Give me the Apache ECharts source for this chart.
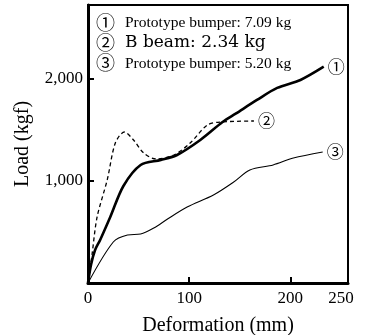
<!DOCTYPE html>
<html>
<head>
<meta charset="utf-8">
<script src="https://cdn.jsdelivr.net/npm/echarts@6/dist/echarts.min.js"></script>
<style>
  html, body { margin: 0; padding: 0; background: #fff; }
  #chart { width: 370px; height: 335px; }
</style>
</head>
<body>
<div id="chart"></div>
<script>
  // deformation (mm) / load (kgf)
  var def1 = [0, 3, 7, 12, 22, 35, 52, 72, 88, 111, 133, 146, 167, 187, 210, 233];
  var load1 = [0, 180, 323, 422, 647, 951, 1157, 1206, 1255, 1402, 1578, 1660, 1794, 1912, 1990, 2120];

  var def2 = [0, 4, 9, 19, 27, 36, 45, 55, 67, 85, 101, 118, 131, 164];
  var load2 = [0, 280, 647, 1010, 1372, 1480, 1402, 1275, 1216, 1255, 1372, 1549, 1578, 1588];

  var def3 = [0, 25, 39, 52, 65, 79, 98, 124, 144, 160, 183, 203, 232];
  var load3 = [0, 402, 471, 480, 539, 630, 745, 863, 990, 1108, 1157, 1225, 1284];

  var xLabels = [0, 100, 200, 250];
  var xTicks = [100, 200];
  var yLabels = [1000, 2000];

  var marks = ['①', '②', '③'];
  var names = ['Prototype bumper: 7.09 kg', 'B beam: 2.34 kg', 'Prototype bumper: 5.20 kg'];

  function zip(xs, ys) {
    return xs.map(function (x, i) { return [x, ys[i]]; });
  }

  var serif = 'Liberation Serif';
  var circ = 'Noto Sans CJK JP';

  var chart = echarts.init(document.getElementById('chart'));
  var option = {
    animation: false,
    backgroundColor: '#fff',
    textStyle: { fontFamily: serif, color: '#000' },
    grid: {
      left: 88, right: 22, top: 5, bottom: 52,
      outerBoundsMode: 'none',
      show: true, borderColor: '#000', borderWidth: 2
    },
    xAxis: {
      type: 'value', min: 0, max: 257,
      name: 'Deformation (mm)', nameLocation: 'middle', nameGap: 33,
      nameTextStyle: { fontFamily: serif, fontSize: 20, color: '#000' },
      axisLine: { lineStyle: { color: '#000', width: 3 } },
      axisTick: { inside: true, length: 6, customValues: xTicks, lineStyle: { color: '#000', width: 2 } },
      axisLabel: { customValues: xLabels, fontFamily: serif, fontSize: 17, color: '#000', margin: 7 },
      splitLine: { show: false }
    },
    yAxis: {
      type: 'value', min: 0, max: 2725,
      name: 'Load (kgf)', nameLocation: 'middle', nameGap: 55, nameRotate: 90,
      nameTextStyle: { fontFamily: serif, fontSize: 20, color: '#000' },
      axisLine: { lineStyle: { color: '#000', width: 3 } },
      axisTick: { inside: true, length: 6, customValues: yLabels, lineStyle: { color: '#000', width: 2 } },
      axisLabel: {
        customValues: yLabels, fontFamily: serif, fontSize: 17, color: '#000', margin: 5,
        formatter: function (v) { return v.toLocaleString('en-US'); }
      },
      splitLine: { show: false }
    },
    graphic: [
      { type: 'text', left: 96, top: 13, style: { text: marks[0], font: '19px "' + circ + '"', fill: '#000' } },
      { type: 'text', left: 125, top: 15, style: { text: names[0], font: '15.5px "' + serif + '"', fill: '#000' } },
      { type: 'text', left: 96, top: 33, style: { text: marks[1], font: '19px "' + circ + '"', fill: '#000' } },
      { type: 'text', left: 125, top: 34, style: { text: names[1], font: '17px "DejaVu Serif"', fill: '#000' } },
      { type: 'text', left: 96, top: 53, style: { text: marks[2], font: '19px "' + circ + '"', fill: '#000' } },
      { type: 'text', left: 125, top: 56, style: { text: names[2], font: '15.5px "' + serif + '"', fill: '#000' } }
    ],
    series: [
      {
        type: 'line', data: zip(def1, load1), smooth: 0.3, symbol: 'none',
        lineStyle: { color: '#000', width: 2.6 },
        endLabel: { show: true, formatter: marks[0], fontFamily: circ, fontSize: 17, color: '#000', distance: 4 }
      },
      {
        type: 'line', data: zip(def2, load2), smooth: 0.3, symbol: 'none',
        lineStyle: { color: '#000', width: 1.3, type: [4, 3] },
        endLabel: { show: true, formatter: marks[1], fontFamily: circ, fontSize: 17, color: '#000', distance: 4 }
      },
      {
        type: 'line', data: zip(def3, load3), smooth: 0.3, symbol: 'none',
        lineStyle: { color: '#000', width: 1.1 },
        endLabel: { show: true, formatter: marks[2], fontFamily: circ, fontSize: 17, color: '#000', distance: 4 }
      }
    ]
  };
  chart.setOption(option);
</script>
</body>
</html>
